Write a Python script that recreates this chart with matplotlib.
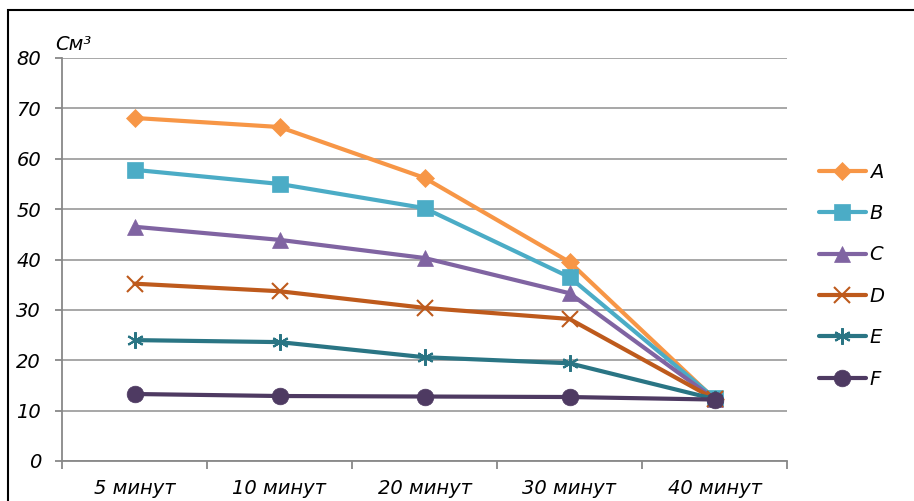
import matplotlib.pyplot as plt
from matplotlib.patches import Rectangle
import numpy as np

#### Data ####
categories = ["5 минут", "10 минут", "20 минут", "30 минут", "40 минут"]
series_names = ["A", "B", "C", "D", "E", "F"]
A = [68.1, 66.3, 56.2, 39.5, 12.3]
B = [57.8, 55.0, 50.2, 36.5, 12.5]
C = [46.5, 43.9, 40.3, 33.3, 12.3]
D = [35.2, 33.7, 30.4, 28.2, 12.3]
E = [24.0, 23.6, 20.6, 19.4, 12.3]
F = [13.3, 12.9, 12.8, 12.7, 12.2]

colors = ["#F79646", "#4BACC6", "#8064A2", "#BE5A1C", "#2A7584", "#4E3A62"]
markers = ["D", "s", "^", "x", (6, 2, 0), "o"]
msizes = [9, 11, 11, 11, 12, 12]

#### Plot ####
fig = plt.figure(figsize=(9.14, 5.01), dpi=100)
ax = fig.add_axes([62 / 914, 40 / 501, 725 / 914, 403 / 501])

x = np.arange(len(categories))
for name, vals, c, m, ms in zip(series_names, [A, B, C, D, E, F], colors, markers, msizes):
    ax.plot(x, vals, color=c, lw=3, marker=m, markersize=ms,
            markeredgewidth=1.5 if m in ("x", (6, 2, 0)) else 0.5,
            markeredgecolor=c, label=name, solid_capstyle="round")

ax.set_xlim(-0.5, len(categories) - 0.5)
ax.set_ylim(0, 80)
ax.set_yticks(range(0, 81, 10))
ax.grid(axis="y", color="#A0A0A0", lw=1.3)
ax.set_axisbelow(True)

# category ticks sit on the boundaries, labels in the middle
ax.set_xticks(np.arange(-0.5, len(categories)), minor=False)
ax.set_xticklabels([])
ax.set_xticks(x, minor=True)
ax.set_xticklabels(categories, minor=True, fontsize=14, style="italic")
ax.tick_params(axis="x", which="minor", length=0, pad=13)
ax.tick_params(axis="x", which="major", length=6, color="#888888", width=1.3)
ax.tick_params(axis="y", length=5, color="#888888", width=1.3, labelsize=14, pad=10)
for lab in ax.get_yticklabels():
    lab.set_style("italic")

for s in ["top", "right"]:
    ax.spines[s].set_visible(False)
for s in ["left", "bottom"]:
    ax.spines[s].set_color("#888888")
    ax.spines[s].set_linewidth(1.3)

fig.text(55 / 914, 1 - 44 / 501, "См³", fontsize=14, style="italic", va="center")

ax.legend(loc="center left", bbox_to_anchor=(1.02, 0.46), frameon=False,
          prop={"style": "italic", "size": 14},
          handlelength=2.4, handletextpad=0.2, labelspacing=1.15)

# outer chart border
fig.patches.append(Rectangle((8 / 914, -0.1), 1.2, 1 - 10 / 501 + 0.1,
                             transform=fig.transFigure, fill=False,
                             edgecolor="black", lw=1.5))

plt.savefig("out.png", dpi=100)
plt.close()
